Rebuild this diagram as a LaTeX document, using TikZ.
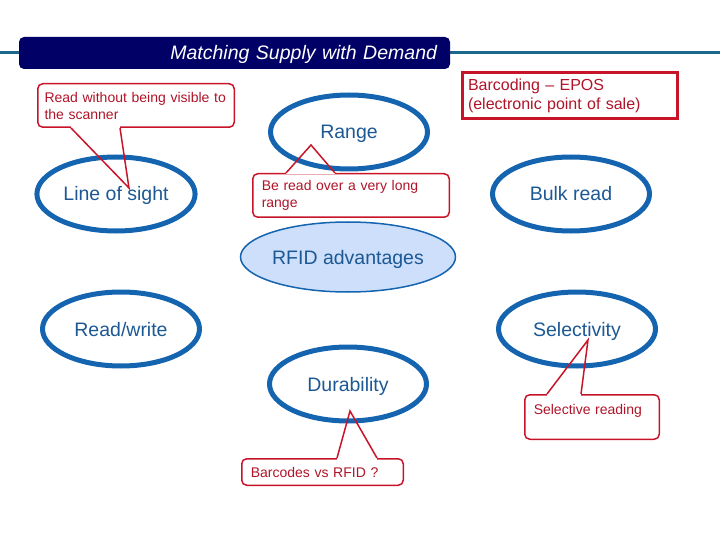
\documentclass[tikz,border=0pt]{standalone}
\usepackage{fontspec}
\setmainfont{Liberation Sans}
\usetikzlibrary{shapes.geometric,calc}
\definecolor{ringblue}{RGB}{20,100,175}
\definecolor{labelblue}{RGB}{28,88,148}
\definecolor{hubfill}{RGB}{205,223,250}
\definecolor{notered}{RGB}{200,20,40}
\definecolor{notetext}{RGB}{175,20,40}
\definecolor{bannerblue}{RGB}{0,0,102}
\definecolor{ruleblue}{RGB}{26,105,140}
\begin{document}
\begin{tikzpicture}[x=1pt,y=-1pt]
    \tikzstyle{topic}=[ellipse,draw=ringblue,line width=5pt,minimum width=157pt,minimum height=74pt,text height=14pt,text depth=0pt,text=labelblue,font=\fontsize{19.5}{22}\selectfont]
    \tikzstyle{hub}=[ellipse,draw=ringblue,line width=1.5pt,fill=hubfill,inner sep=0pt,minimum width=215pt,minimum height=70pt,text height=14pt,text depth=0pt,text=labelblue,font=\fontsize{19.5}{22}\selectfont]
    \tikzstyle{note}=[draw=notered,line width=1.5pt,rounded corners=5pt,anchor=north west,inner xsep=9pt,inner ysep=0pt,align=left,text=notetext,font=\fontsize{14}{17}\selectfont]
    \tikzstyle{pointer}=[draw=notered,line width=1.5pt]
    \tikzstyle{erase}=[draw=white,line width=3pt]
    \useasboundingbox (0,0) rectangle (720,540);
    \draw[ruleblue,line width=3pt] (0,53) -- (720,53);
    \node[fill=bannerblue,rounded corners=5pt,minimum height=32pt,text width=405pt,inner xsep=13pt,text height=14pt,text depth=0pt,align=right,text=white,font=\fontsize{19.5}{22}\selectfont\itshape] (banner) at (234.5,53) {Matching Supply with Demand};
    % ellipses
    \node[topic] (range) at (349,132) {Range};
    \node[topic] (sight) at (116,194) {Line of sight};
    \node[topic] (bulk) at (571,194) {Bulk read};
    \node[hub] (rfid) at (348,257) {RFID advantages};
    \node[topic] (rw) at (121,329) {Read/write};
    \node[topic] (select) at (577,329) {Selectivity};
    \node[topic] (durable) at (348,384) {Durability};
    % notes
    \node[note,inner xsep=6.75pt,text width=183pt,minimum height=43.5pt] (noteSight) at (37,83) {Read without being visible to\\the scanner};
    \node[note,text width=178.5pt,minimum height=43.5pt] (noteRange) at (252,173) {Be read over a very long\\range};
    \node[note,rounded corners=0pt,line width=3pt,inner xsep=5.5pt,text width=204pt,minimum height=46pt,font=\fontsize{16}{19}\selectfont] (noteEpos) at (461,71) {Barcoding -- EPOS\\(electronic point of sale)};
    \node[note,text width=143.5pt,minimum height=26.5pt] (noteBarcodes) at (241,458) {Barcodes vs RFID ?};
    \node[note,text width=116.5pt,text height=19.25pt,text depth=25.25pt] (noteSelect) at (524,394) {Selective reading};
    \coordinate (sightTip) at (129,188);
    \coordinate (rangeTip) at (311,145);
    \coordinate (durableTip) at (350,411);
    \coordinate (selectTip) at (588,340);
    %\draw pointers
    \draw[erase] ($(noteSight.south west)+(34,0)$) -- ($(noteSight.south west)+(83,0)$);
    \draw[pointer] ($(noteSight.south west)+(34,0)$) -- (sightTip) -- ($(noteSight.south west)+(83,0)$);
    \draw[erase] ($(noteRange.north west)+(34,0)$) -- ($(noteRange.north west)+(83,0)$);
    \draw[pointer] ($(noteRange.north west)+(34,0)$) -- (rangeTip) -- ($(noteRange.north west)+(83,0)$);
    \draw[erase] ($(noteBarcodes.north west)+(96,0)$) -- ($(noteBarcodes.north west)+(136,0)$);
    \draw[pointer] ($(noteBarcodes.north west)+(96,0)$) -- (durableTip) -- ($(noteBarcodes.north west)+(136,0)$);
    \draw[erase] ($(noteSelect.north west)+(23,0)$) -- ($(noteSelect.north west)+(57,0)$);
    \draw[pointer] ($(noteSelect.north west)+(23,0)$) -- (selectTip) -- ($(noteSelect.north west)+(57,0)$);
  \end{tikzpicture}
\end{document}
